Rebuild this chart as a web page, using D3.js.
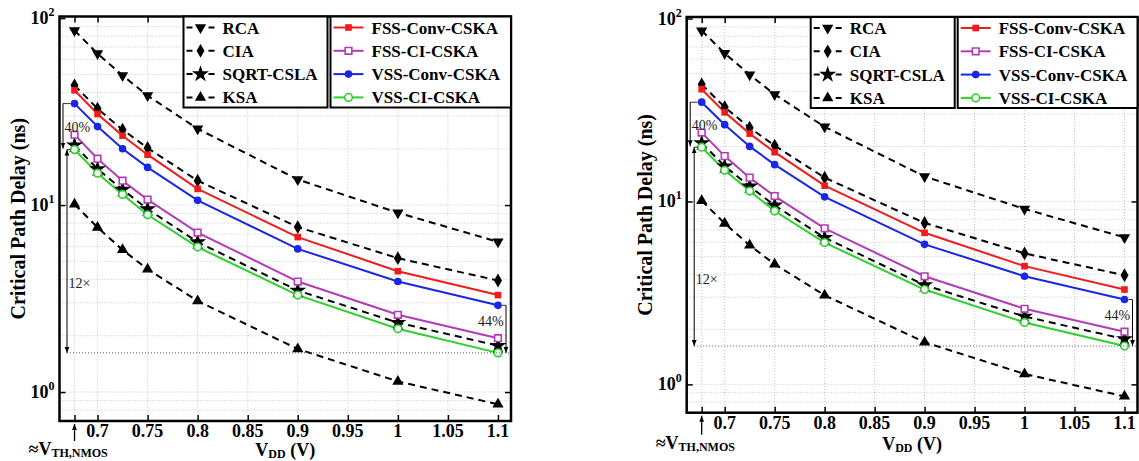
<!DOCTYPE html>
<html>
<head>
<meta charset="utf-8">
<script src="https://cdn.jsdelivr.net/npm/d3@7"></script>
<style>
  body { margin: 0; background: #fff; }
  svg text { font-family: 'Liberation Serif', 'Times New Roman', serif; font-weight: bold; }
</style>
</head>
<body>
<svg id="chart"></svg>
<script>
// supply voltage points (V)
const vdd = [0.677, 0.7, 0.725, 0.75, 0.8, 0.9, 1.0, 1.1];

// critical path delay (ns)
const rca = [85.9, 64.6, 49.3, 38.5, 25.6, 13.7, 9.1, 6.36];
const cia = [43.7, 32.8, 25.3, 20.2, 13.5, 7.63, 5.2, 3.95];
const sqrtCsla = [20.9, 15.6, 12.1, 9.52, 6.34, 3.49, 2.35, 1.77];
const ksa = [10.1, 7.59, 5.76, 4.54, 3.07, 1.7, 1.14, 0.86];
const fssConv = [41.1, 30.7, 23.5, 18.6, 12.2, 6.74, 4.43, 3.3];
const fssCi = [23.8, 17.7, 13.5, 10.7, 7.13, 3.9, 2.59, 1.94];
const vssConv = [34.9, 26.3, 20.0, 15.9, 10.6, 5.83, 3.9, 2.91];
const vssCi = [19.8, 14.8, 11.4, 8.87, 5.96, 3.3, 2.18, 1.62];

const xTicks = [0.7, 0.75, 0.8, 0.85, 0.9, 0.95, 1, 1.05, 1.1];
const yMajor = [1, 10, 100];

const width = 1139;
const height = 461;

const leftSeries = [
  { name: 'RCA', values: rca, symbol: 'down' },
  { name: 'CIA', values: cia, symbol: 'diamond' },
  { name: 'SQRT-CSLA', values: sqrtCsla, symbol: 'star' },
  { name: 'KSA', values: ksa, symbol: 'up' },
];
const rightSeries = [
  { name: 'FSS-Conv-CSKA', values: fssConv, color: '#f01c1c', symbol: 'square', filled: true },
  { name: 'FSS-CI-CSKA', values: fssCi, color: '#b23cb8', symbol: 'square', filled: false },
  { name: 'VSS-Conv-CSKA', values: vssConv, color: '#1a26e6', symbol: 'circle', filled: true },
  { name: 'VSS-CI-CSKA', values: vssCi, color: '#2ecf2e', symbol: 'circle', filled: false },
];

const panels = [
  { left: 59.5, top: 16.5, right: 511, bottom: 421, labelDy: 35 },
  { left: 686.7, top: 17, right: 1137.5, bottom: 412.7, labelDy: 37 },
];

const svg = d3.select('#chart').attr('width', width).attr('height', height);

const defs = svg.append('defs');
const addArrow = (id, orient) => {
  defs
    .append('marker')
    .attr('id', id)
    .attr('viewBox', '0 0 10 10')
    .attr('refX', 10)
    .attr('refY', 5)
    .attr('markerWidth', 6)
    .attr('markerHeight', 6)
    .attr('markerUnits', 'userSpaceOnUse')
    .attr('orient', orient)
    .append('path')
    .attr('d', 'M0,1 L10,5 L0,9 Z')
    .attr('fill', '#000');
};
addArrow('arrow', 'auto');
addArrow('arrowStart', 'auto-start-reverse');

const markerPath = (kind) => {
  if (kind === 'down' || kind === 'up') return d3.symbol(d3.symbolTriangle, 55)();
  if (kind === 'diamond') return d3.symbol(d3.symbolDiamond, 55)();
  if (kind === 'star') return d3.symbol(d3.symbolStar, 90)();
  if (kind === 'square') return d3.symbol(d3.symbolSquare, 44)();
  return d3.symbol(d3.symbolCircle, 46)();
};

const drawMarker = (g, kind, x, y, color, filled) => {
  const p = g
    .append('path')
    .attr('d', markerPath(kind))
    .attr('transform', 'translate(' + x + ',' + y + ')' + (kind === 'down' ? ' rotate(180)' : ''));
  if (color) {
    p.attr('fill', filled ? color : '#fff')
      .attr('stroke', color)
      .attr('stroke-width', filled ? 0 : 1.6);
  } else {
    p.attr('fill', '#000');
  }
};

const drawPanel = (pn) => {
  const g = svg.append('g');
  const xScale = d3.scaleLinear().domain([0.662, 1.113]).range([pn.left, pn.right]);
  const yScale = d3.scaleLog().domain([0.7, 102]).range([pn.bottom, pn.top]);

  // grid
  const minor = [];
  [0.1, 1, 10].forEach((d) => {
    for (let k = 1; k <= 9; k++) {
      const v = +(d * k).toPrecision(3);
      if (v >= 0.7 && v <= 100) minor.push(v);
    }
  });
  g.selectAll('.hgrid')
    .data(minor)
    .enter()
    .append('line')
    .attr('x1', pn.left)
    .attr('x2', pn.right)
    .attr('y1', (d) => yScale(d))
    .attr('y2', (d) => yScale(d))
    .attr('stroke', '#c4c4c4')
    .attr('stroke-width', 1)
    .attr('stroke-dasharray', '1,2');
  g.selectAll('.vgrid')
    .data([vdd[0]].concat(xTicks))
    .enter()
    .append('line')
    .attr('x1', (d) => xScale(d))
    .attr('x2', (d) => xScale(d))
    .attr('y1', pn.top)
    .attr('y2', pn.bottom)
    .attr('stroke', '#c4c4c4')
    .attr('stroke-width', 1)
    .attr('stroke-dasharray', '1,2');

  // axes
  const xAxisB = d3.axisBottom(xScale).tickValues([vdd[0]].concat(xTicks)).tickSizeInner(-6).tickSizeOuter(0).tickFormat('');
  const xAxisT = d3.axisTop(xScale).tickValues([vdd[0]].concat(xTicks)).tickSizeInner(-6).tickSizeOuter(0).tickFormat('');
  const yAxisL = d3.axisLeft(yScale).tickValues(yMajor).tickSizeInner(-6).tickSizeOuter(0).tickFormat('');
  const yAxisR = d3.axisRight(yScale).tickValues(yMajor).tickSizeInner(-6).tickSizeOuter(0).tickFormat('');
  [
    [xAxisB, 'translate(0,' + pn.bottom + ')'],
    [xAxisT, 'translate(0,' + pn.top + ')'],
    [yAxisL, 'translate(' + pn.left + ',0)'],
    [yAxisR, 'translate(' + pn.right + ',0)'],
  ].forEach(([ax, tr]) => {
    const a = g.append('g').attr('transform', tr).call(ax);
    a.select('.domain').remove();
    a.selectAll('line').attr('stroke', '#000').attr('stroke-width', 1.5);
  });

  g.append('rect')
    .attr('x', pn.left)
    .attr('y', pn.top)
    .attr('width', pn.right - pn.left)
    .attr('height', pn.bottom - pn.top)
    .attr('fill', 'none')
    .attr('stroke', '#000')
    .attr('stroke-width', 2.5);

  // tick labels
  g.selectAll('.xl')
    .data(xTicks)
    .enter()
    .append('text')
    .attr('x', (d) => xScale(d))
    .attr('y', pn.bottom + 16)
    .attr('text-anchor', 'middle')
    .style('font-size', '18px')
    .text((d) => d);

  yMajor.forEach((d) => {
    const t = g
      .append('text')
      .attr('x', pn.left - 5)
      .attr('y', yScale(d) + 6)
      .attr('text-anchor', 'end')
      .style('font-size', '18px');
    t.append('tspan').text('10');
    t.append('tspan').attr('dy', -8).style('font-size', '12px').text(Math.round(Math.log10(d)));
  });

  // axis titles
  const midY = (pn.top + pn.bottom) / 2;
  g.append('text')
    .attr('transform', 'translate(' + (pn.left - 35) + ',' + midY + ') rotate(-90)')
    .attr('text-anchor', 'middle')
    .style('font-size', '20px')
    .text('Critical Path Delay (ns)');

  const xl = g
    .append('text')
    .attr('x', (pn.left + pn.right) / 2)
    .attr('y', pn.bottom + pn.labelDy)
    .attr('text-anchor', 'middle')
    .style('font-size', '18px');
  xl.append('tspan').text('V');
  xl.append('tspan').attr('dy', 2).style('font-size', '12px').text('DD');
  xl.append('tspan').attr('dy', -2).text(' (V)');

  const vt = g
    .append('text')
    .attr('x', pn.left - 31)
    .attr('y', pn.bottom + pn.labelDy - 1)
    .style('font-size', '18px');
  vt.append('tspan').text('\u2248V');
  vt.append('tspan').attr('dy', 2).style('font-size', '12px').text('TH,NMOS');

  g.append('line')
    .attr('x1', xScale(vdd[0]))
    .attr('x2', xScale(vdd[0]))
    .attr('y1', pn.bottom + pn.labelDy - 15)
    .attr('y2', pn.bottom + 3)
    .attr('stroke', '#000')
    .attr('stroke-width', 1.3)
    .attr('marker-end', 'url(#arrow)');

  // lines
  const line = d3
    .line()
    .x((d, i) => xScale(vdd[i]))
    .y((d) => yScale(d));

  leftSeries.forEach((s) => {
    g.append('path')
      .attr('d', line(s.values))
      .attr('fill', 'none')
      .attr('stroke', '#000')
      .attr('stroke-width', 2)
      .attr('stroke-dasharray', '7,5');
  });
  rightSeries.forEach((s) => {
    g.append('path')
      .attr('d', line(s.values))
      .attr('fill', 'none')
      .attr('stroke', s.color)
      .attr('stroke-width', 2);
  });
  leftSeries.forEach((s) => {
    s.values.forEach((v, i) => drawMarker(g, s.symbol, xScale(vdd[i]), yScale(v)));
  });
  rightSeries.forEach((s) => {
    s.values.forEach((v, i) => drawMarker(g, s.symbol, xScale(vdd[i]), yScale(v), s.color, s.filled));
  });

  // annotations
  const last = vdd.length - 1;
  const yTop40 = yScale(vssConv[0]);
  const yLow = yScale(vssCi[0]);
  const yEnd = yScale(vssCi[last]);
  const xa = pn.left + 3.5;
  const xb = pn.left + 7.5;

  g.append('line')
    .attr('x1', xa)
    .attr('x2', xScale(vdd[0]) - 4)
    .attr('y1', yTop40)
    .attr('y2', yTop40)
    .attr('stroke', '#000')
    .attr('stroke-width', 0.8);
  g.append('line')
    .attr('x1', xa)
    .attr('x2', xa)
    .attr('y1', yTop40)
    .attr('y2', yLow - 1)
    .attr('stroke', '#000')
    .attr('stroke-width', 1)
    .attr('marker-end', 'url(#arrow)');
  g.append('line')
    .attr('x1', xb)
    .attr('x2', xScale(vdd[0]) - 4)
    .attr('y1', yLow)
    .attr('y2', yLow)
    .attr('stroke', '#000')
    .attr('stroke-width', 0.8);
  g.append('line')
    .attr('x1', xb)
    .attr('x2', xb)
    .attr('y1', yLow)
    .attr('y2', yEnd)
    .attr('stroke', '#000')
    .attr('stroke-width', 1)
    .attr('marker-start', 'url(#arrowStart)')
    .attr('marker-end', 'url(#arrow)');
  g.append('line')
    .attr('x1', xb)
    .attr('x2', pn.right)
    .attr('y1', yEnd)
    .attr('y2', yEnd)
    .attr('stroke', '#555')
    .attr('stroke-width', 1)
    .attr('stroke-dasharray', '1,2');

  const x44 = pn.right - 5;
  const y44 = yScale(vssConv[last]);
  g.append('line')
    .attr('x1', xScale(vdd[last]) + 4)
    .attr('x2', x44)
    .attr('y1', y44)
    .attr('y2', y44)
    .attr('stroke', '#000')
    .attr('stroke-width', 0.8);
  g.append('line')
    .attr('x1', x44)
    .attr('x2', x44)
    .attr('y1', y44)
    .attr('y2', yEnd)
    .attr('stroke', '#000')
    .attr('stroke-width', 1)
    .attr('marker-end', 'url(#arrow)');

  const note = (txt, x, y) =>
    g.append('text')
      .attr('x', x)
      .attr('y', y)
      .style('font-size', '14px')
      .style('font-weight', 'normal')
      .attr('fill', '#222')
      .text(txt);
  note('40%', pn.left + 5, (yTop40 + yLow) / 2 + 5);
  note('12\u00d7', pn.left + 9, (yLow + yEnd) / 2 + 37);
  note('44%', pn.right - 33, (y44 + yEnd) / 2 - 3);

  // legends
  const legendRow = (i) => pn.top + 11 + i * 23.3;
  const lg1 = g.append('g').attr('transform', 'translate(' + (pn.left + 124) + ',0)');
  lg1.append('rect')
    .attr('x', 0)
    .attr('y', pn.top)
    .attr('width', 144)
    .attr('height', 91)
    .attr('fill', '#fff')
    .attr('stroke', '#000')
    .attr('stroke-width', 2);
  leftSeries.forEach((s, i) => {
    lg1.append('line')
      .attr('x1', 3)
      .attr('x2', 31)
      .attr('y1', legendRow(i))
      .attr('y2', legendRow(i))
      .attr('stroke', '#000')
      .attr('stroke-width', 2)
      .attr('stroke-dasharray', '6,5');
    drawMarker(lg1, s.symbol, 17, legendRow(i));
    lg1.append('text')
      .attr('x', 39)
      .attr('y', legendRow(i) + 6)
      .style('font-size', '17px')
      .text(s.name);
  });

  const lg2x = pn.left + 271;
  const lg2 = g.append('g').attr('transform', 'translate(' + lg2x + ',0)');
  lg2.append('rect')
    .attr('x', 0)
    .attr('y', pn.top)
    .attr('width', pn.right - lg2x)
    .attr('height', 91)
    .attr('fill', '#fff')
    .attr('stroke', '#000')
    .attr('stroke-width', 2);
  rightSeries.forEach((s, i) => {
    lg2.append('line')
      .attr('x1', 3)
      .attr('x2', 33)
      .attr('y1', legendRow(i))
      .attr('y2', legendRow(i))
      .attr('stroke', s.color)
      .attr('stroke-width', 2);
    drawMarker(lg2, s.symbol, 18, legendRow(i), s.color, s.filled);
    lg2.append('text')
      .attr('x', 41)
      .attr('y', legendRow(i) + 6)
      .style('font-size', '17px')
      .text(s.name);
  });
};

panels.forEach(drawPanel);
</script>
</body>
</html>
